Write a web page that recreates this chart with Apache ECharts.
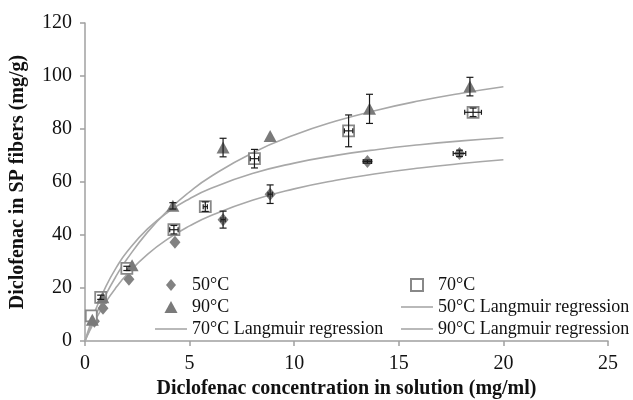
<!DOCTYPE html>
<html><head><meta charset="utf-8">
<script src="https://cdn.jsdelivr.net/npm/echarts@6/dist/echarts.min.js"></script>
<style>html,body{margin:0;padding:0;background:#fff}#c{width:633px;height:400px}</style>
</head><body><div id="c"></div>
<script>
// Measured points [x, y]
var pts50 = [[0.3, 9.0], [0.45, 7.5], [0.86, 12.4], [2.1, 23.3], [4.3, 37.3], [6.6, 45.8], [8.85, 55.4], [13.5, 67.7], [17.9, 70.8]];
var err50 = [[0, 0], [0, 0], [0, 0], [0, 0], [0, 0], [0.1, 3.2], [0.1, 3.5], [0.2, 0.6], [0.3, 1.2]];
var pts70 = [[0.3, 9.5], [0.75, 16.5], [2.0, 27.4], [4.25, 42.0], [5.75, 50.7], [8.1, 68.8], [12.6, 79.3], [18.55, 86.3]];
var err70 = [[0, 0], [0, 0.8], [0, 0.8], [0.2, 1.6], [0.1, 1.8], [0.2, 3.5], [0.2, 6.0], [0.4, 1.6]];
var pts90 = [[0.35, 8.0], [0.85, 16.5], [2.25, 28.6], [4.2, 51.0], [6.6, 73.0], [8.85, 77.4], [13.6, 87.6], [18.4, 96.0]];
var err90 = [[0, 0], [0, 0], [0, 0], [0, 1.2], [0, 3.5], [0, 0], [0, 5.5], [0, 3.5]];
// Regression curves
var curveX = [0, 0.25, 0.5, 1, 1.5, 2, 3, 4, 5, 6, 8, 10, 12, 14, 16, 18, 20];
var fit50 = [0, 4.24, 8.07, 14.74, 20.34, 25.11, 32.79, 38.72, 43.43, 47.27, 53.13, 57.40, 60.65, 63.20, 65.27, 66.97, 68.39];
var fit70 = [0, 6.24, 11.67, 20.65, 27.78, 33.56, 42.39, 48.82, 53.70, 57.54, 63.18, 67.13, 70.04, 72.29, 74.07, 75.52, 76.71];
var fit90 = [0, 4.91, 9.45, 17.58, 24.64, 30.83, 41.18, 49.49, 56.31, 62.00, 70.97, 77.72, 82.98, 87.19, 90.64, 93.52, 95.96];
var xTicks = [0, 5, 10, 15, 20, 25];
var yTicks = [0, 20, 40, 60, 80, 100, 120];

var FONT = '"Liberation Serif","Times New Roman",serif';
function zip(xs, ys) { return xs.map(function (x, i) { return [x, ys[i]]; }); }
function errData(p, e) { return p.map(function (q, i) { return [q[0], q[1], e[i][0], e[i][1]]; }); }
function renderErr(params, api) {
  var x = api.value(0), y = api.value(1), ex = api.value(2), ey = api.value(3);
  var ch = [];
  var st = { stroke: '#1a1a1a', lineWidth: 1.2 };
  if (ey > 0) {
    var t = api.coord([x, y + ey]), b = api.coord([x, y - ey]);
    ch.push({ type: 'line', shape: { x1: t[0], y1: t[1], x2: b[0], y2: b[1] }, style: st });
    ch.push({ type: 'line', shape: { x1: t[0] - 3.5, y1: t[1], x2: t[0] + 3.5, y2: t[1] }, style: st });
    ch.push({ type: 'line', shape: { x1: b[0] - 3.5, y1: b[1], x2: b[0] + 3.5, y2: b[1] }, style: st });
  }
  if (ex > 0) {
    var l = api.coord([x - ex, y]), r = api.coord([x + ex, y]);
    ch.push({ type: 'line', shape: { x1: l[0], y1: l[1], x2: r[0], y2: r[1] }, style: st });
    ch.push({ type: 'line', shape: { x1: l[0], y1: l[1] - 2.5, x2: l[0], y2: l[1] + 2.5 }, style: st });
    ch.push({ type: 'line', shape: { x1: r[0], y1: r[1] - 2.5, x2: r[0], y2: r[1] + 2.5 }, style: st });
  }
  return { type: 'group', children: ch };
}
var lineColor = '#a8a8a8', markColor = '#828282';
var ICON_LINE = 'path://M0,0L32,0L32,1.6L0,1.6Z';
var ICON_DIAMOND = 'path://M5,0L10,6L5,12L0,6Z';
var ICON_TRI = 'path://M6,0L12,11L0,11Z';
var ICON_RECT = 'path://M0,0L11,0L11,11L0,11Z';
var chart = echarts.init(document.getElementById('c'), null, { renderer: 'canvas' });
var legendBase = {
  orient: 'vertical', itemWidth: 32, itemHeight: 12, itemGap: 4, top: 271, symbolKeepAspect: true,
  textStyle: { fontFamily: FONT, fontSize: 18, color: '#111' }, selectedMode: false
};
chart.setOption({
  animation: false,
  grid: { left: 85, right: 25, top: 23, bottom: 59, outerBoundsMode: 'none', containLabel: false },
  xAxis: {
    type: 'value', min: xTicks[0], max: xTicks[xTicks.length - 1], interval: 5,
    name: 'Diclofenac concentration in solution (mg/ml)', nameLocation: 'middle', nameGap: 38,
    nameTextStyle: { fontFamily: FONT, fontSize: 20, fontWeight: 'bold', color: '#111' },
    axisLine: { lineStyle: { color: '#a0a0a0', width: 1.5 } },
    axisTick: { length: 5, lineStyle: { color: '#a0a0a0', width: 1.5 } },
    axisLabel: { fontFamily: FONT, fontSize: 20, color: '#111', margin: 13 },
    splitLine: { show: false }
  },
  yAxis: {
    type: 'value', min: yTicks[0], max: yTicks[yTicks.length - 1], interval: 20,
    name: 'Diclofenac in SP fibers (mg/g)', nameLocation: 'middle', nameGap: 57,
    nameTextStyle: { fontFamily: FONT, fontSize: 20, fontWeight: 'bold', color: '#111' },
    axisLine: { show: true, lineStyle: { color: '#a0a0a0', width: 1.5 } },
    axisTick: { show: true, length: 5, lineStyle: { color: '#a0a0a0', width: 1.5 } },
    axisLabel: { fontFamily: FONT, fontSize: 20, color: '#111', margin: 13 },
    splitLine: { show: false }
  },
  legend: [
    Object.assign({}, legendBase, { left: 150, data: [
      { name: '50°C', icon: ICON_DIAMOND },
      { name: '90°C', icon: ICON_TRI },
      { name: '70°C Langmuir regression', icon: ICON_LINE }
    ] }),
    Object.assign({}, legendBase, { left: 396, data: [
      { name: '70°C', icon: ICON_RECT },
      { name: '50°C Langmuir regression', icon: ICON_LINE },
      { name: '90°C Langmuir regression', icon: ICON_LINE }
    ] })
  ],
  series: [
    { name: '50°C Langmuir regression', type: 'line', data: zip(curveX, fit50), smooth: true, symbol: 'none', lineStyle: { color: lineColor, width: 1.6 }, itemStyle: { color: lineColor }, z: 1 },
    { name: '70°C Langmuir regression', type: 'line', data: zip(curveX, fit70), smooth: true, symbol: 'none', lineStyle: { color: lineColor, width: 1.6 }, itemStyle: { color: lineColor }, z: 1 },
    { name: '90°C Langmuir regression', type: 'line', data: zip(curveX, fit90), smooth: true, symbol: 'none', lineStyle: { color: lineColor, width: 1.6 }, itemStyle: { color: lineColor }, z: 1 },
    { name: '50°C', type: 'scatter', data: pts50, symbol: 'diamond', symbolSize: [11, 13], itemStyle: { color: markColor, opacity: 1 }, z: 3 },
    { name: '70°C', type: 'scatter', data: pts70, symbol: 'rect', symbolSize: 11, itemStyle: { color: '#fff', borderColor: '#888', borderWidth: 1.8, opacity: 1 }, z: 3 },
    { name: '90°C', type: 'scatter', data: pts90, symbol: 'triangle', symbolSize: [13, 12], itemStyle: { color: '#7a7a7a', opacity: 1 }, z: 3 },
    { type: 'custom', data: errData(pts50, err50), renderItem: renderErr, encode: { x: 0, y: 1 }, z: 5, silent: true },
    { type: 'custom', data: errData(pts70, err70), renderItem: renderErr, encode: { x: 0, y: 1 }, z: 5, silent: true },
    { type: 'custom', data: errData(pts90, err90), renderItem: renderErr, encode: { x: 0, y: 1 }, z: 5, silent: true }
  ]
});
</script></body></html>
